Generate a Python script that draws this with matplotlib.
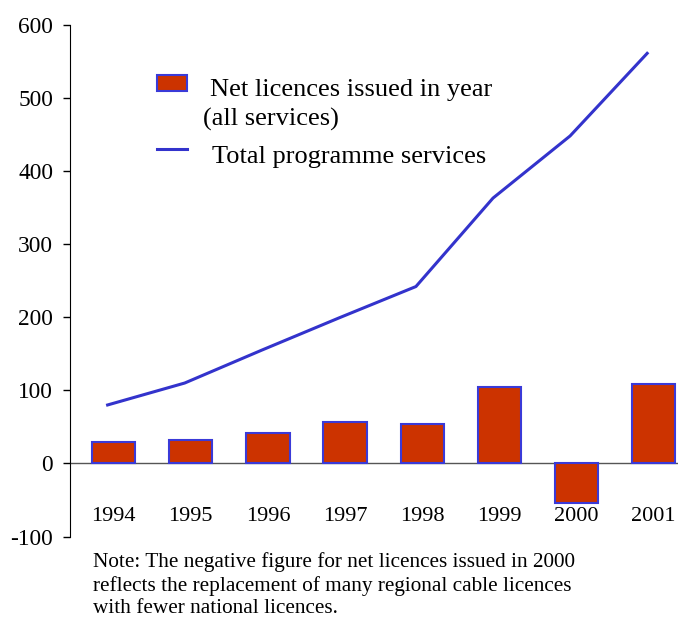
import numpy as np
import matplotlib.pyplot as plt
from matplotlib.patches import Rectangle
from matplotlib.lines import Line2D

plt.rcParams['font.family'] = ['Liberation Serif', 'DejaVu Serif']

years = ['1994', '1995', '1996', '1997', '1998', '1999', '2000', '2001']
net_licences = [30, 32, 42, 57, 54, 105, -54, 109]
total_services = [80, 110, 155, 199, 242, 363, 448, 561]
yticks = [-100, 0, 100, 200, 300, 400, 500, 600]

bar_color = '#CC3300'
edge_color = '#3A3AD8'
line_color = '#3333CC'

fig = plt.figure(figsize=(6.78, 6.21), dpi=100)
ax = fig.add_axes([0.103, 0.136, 0.897, 0.824])

x = np.arange(len(years))
ax.bar(x, net_licences, width=0.56, color=bar_color, edgecolor=edge_color, linewidth=1.5, zorder=2)
# line sits slightly left of the bar centres in the original
ax.plot(x - 0.08, total_services, color=line_color, linewidth=2.2, zorder=3)
ax.axhline(0, color='#555555', linewidth=1.0, zorder=1)

for xi, yr in zip(x, years):
	ax.text(xi, -72, yr, ha='center', va='center', fontsize=16)

ax.set_xlim(-0.57, 7.32)
ax.set_ylim(-100, 600)
ax.set_yticks(yticks)
ax.set_yticklabels([str(v) for v in yticks], fontsize=16.8)
ax.set_xticks([])
ax.tick_params(axis='y', direction='out', length=5, width=1, pad=7)
for s in ['top', 'right', 'bottom']:
	ax.spines[s].set_visible(False)

# legend drawn by hand
fig.add_artist(Rectangle((0.2316, 0.853), 0.0442, 0.027, transform=fig.transFigure,
	facecolor=bar_color, edgecolor=edge_color, linewidth=1.5))
fig.text(0.310, 0.855, 'Net licences issued in year', fontsize=19, va='center', ha='left')
fig.text(0.300, 0.807, '(all services)', fontsize=19, va='center', ha='left')
fig.add_artist(Line2D([0.2316, 0.2758], [0.760, 0.760], transform=fig.transFigure,
	color=line_color, linewidth=2.2))
fig.text(0.313, 0.747, 'Total programme services', fontsize=19, va='center', ha='left')

note = ('Note: The negative figure for net licences issued in 2000\n'
	'reflects the replacement of many regional cable licences\n'
	'with fewer national licences.')
fig.text(0.137, 0.1105, note, fontsize=15.3, va='top', ha='left', linespacing=1.24)

fig.savefig('out.png', dpi=100)
